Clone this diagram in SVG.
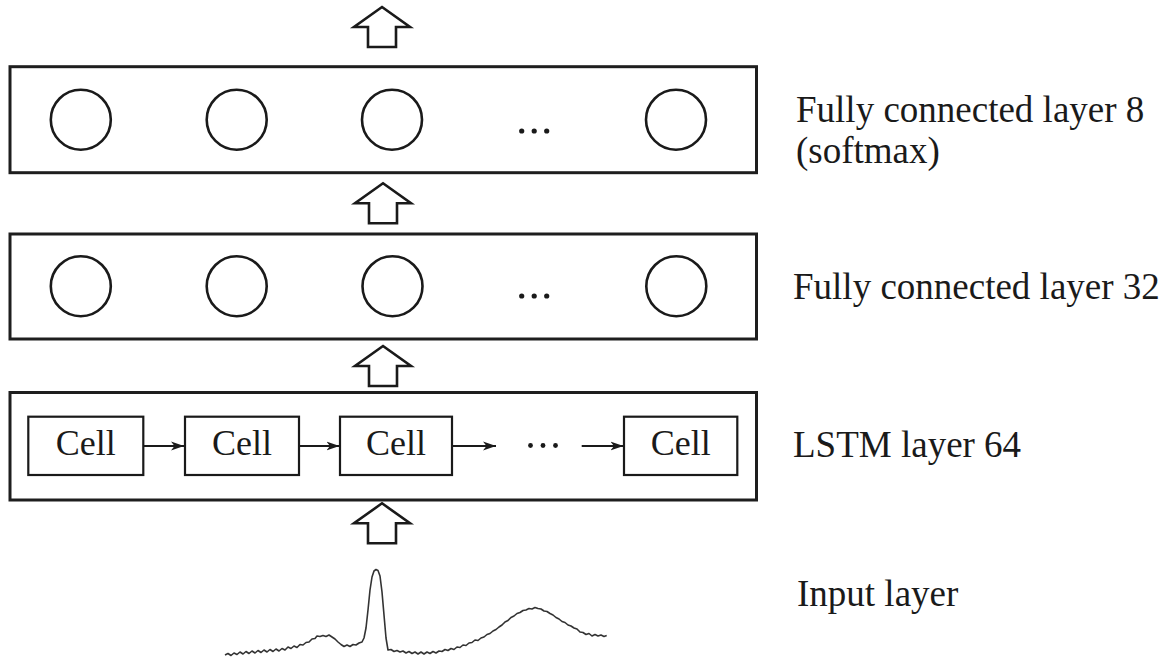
<svg xmlns="http://www.w3.org/2000/svg" width="1170" height="660" viewBox="0 0 1170 660">
<defs>
<style>
.layer{fill:none;stroke:#1e1e1e;stroke-width:3}
.neuron{fill:none;stroke:#1a1a1a;stroke-width:2.6}
.cell{fill:#fff;stroke:#1a1a1a;stroke-width:2.2}
.up{fill:#fff;stroke:#1a1a1a;stroke-width:2.6;stroke-linejoin:miter}
.flow{fill:none;stroke:#1a1a1a;stroke-width:2}
.dot{fill:#1a1a1a}
.lbl{font-family:"Liberation Serif","Times New Roman",serif;font-size:37px;fill:#1a1a1a}
.ct{font-family:"Liberation Serif","Times New Roman",serif;font-size:36px;fill:#1a1a1a;text-anchor:middle}
</style>
<marker id="ah" markerWidth="14" markerHeight="12" refX="13" refY="6" orient="auto" markerUnits="userSpaceOnUse">
<path d="M0,1.5 L13,6 L0,10.5 L3.5,6 Z" fill="#1a1a1a"/>
</marker>
<polygon id="bigArrow" class="up" points="0,0 28,20 14,20 14,40 -14,40 -14,20 -28,20"/>
</defs>
<rect width="1170" height="660" fill="#fff"/>

<g id="output-arrow"><use href="#bigArrow" x="382" y="7"/></g>

<g id="fc8">
<rect class="layer" x="10" y="66.7" width="746.5" height="106"/>
<circle class="neuron" cx="80.8" cy="119.7" r="30"/>
<circle class="neuron" cx="236.7" cy="119.7" r="30"/>
<circle class="neuron" cx="392" cy="119.7" r="30"/>
<circle class="dot" cx="521.7" cy="131" r="2.6"/>
<circle class="dot" cx="534.2" cy="131" r="2.6"/>
<circle class="dot" cx="546.7" cy="131" r="2.6"/>
<circle class="neuron" cx="676" cy="119.7" r="30"/>
</g>

<g id="arrow-fc32-fc8"><use href="#bigArrow" x="383" y="183.3"/></g>

<g id="fc32">
<rect class="layer" x="10" y="234" width="746.5" height="105"/>
<circle class="neuron" cx="80.8" cy="286.2" r="30"/>
<circle class="neuron" cx="236.7" cy="286.2" r="30"/>
<circle class="neuron" cx="392.5" cy="286.2" r="30"/>
<circle class="dot" cx="521.7" cy="296" r="2.6"/>
<circle class="dot" cx="534.2" cy="296" r="2.6"/>
<circle class="dot" cx="546.7" cy="296" r="2.6"/>
<circle class="neuron" cx="676.3" cy="286.2" r="30"/>
</g>

<g id="arrow-lstm-fc32"><use href="#bigArrow" x="383" y="346"/></g>

<g id="lstm">
<rect class="layer" x="10" y="392.5" width="746.5" height="107.5"/>
<g id="cell1"><rect class="cell" x="28.3" y="416.7" width="115" height="58.3"/><text class="ct" x="85.8" y="455">Cell</text></g>
<g id="cell2"><rect class="cell" x="185" y="416.7" width="114" height="58.3"/><text class="ct" x="242" y="455">Cell</text></g>
<g id="cell3"><rect class="cell" x="340" y="416.7" width="112" height="58.3"/><text class="ct" x="396" y="455">Cell</text></g>
<circle class="dot" cx="530.5" cy="445.5" r="2.4"/>
<circle class="dot" cx="543" cy="445.5" r="2.4"/>
<circle class="dot" cx="555.5" cy="445.5" r="2.4"/>
<g id="cell4"><rect class="cell" x="624" y="416.7" width="113.3" height="58.3"/><text class="ct" x="680.7" y="455">Cell</text></g>
</g>

<g id="connectors">
<line class="flow" x1="143.3" y1="446" x2="184" y2="446" marker-end="url(#ah)"/>
<line class="flow" x1="299" y1="446" x2="339.5" y2="446" marker-end="url(#ah)"/>
<line class="flow" x1="452" y1="446" x2="496" y2="446" marker-end="url(#ah)"/>
<line class="flow" x1="581.7" y1="446" x2="623.5" y2="446" marker-end="url(#ah)"/>
</g>

<g id="input-arrow"><use href="#bigArrow" x="382" y="503.3"/></g>

<g id="input-signal">
<path fill="none" stroke="#333" stroke-width="1.6" stroke-linejoin="round" d="M225,655 L228,653.5 L231,655.5 L234,653 L237,654.5 L240,652 L243,654 L246,651.5 L249,653.5 L252,651 L255,653 L258,650.5 L261,652.5 L264,650 L267,652 L270,649.5 L273,651.5 L276,649 L279,651 L282,648.5 L285,650 L288,647 L291,648.5 L294,646 L297,647.5 L300,644.5 L303,645 L306,642.5 L309,642 L312,639 L315,638.5 L317,636 L320,636.5 L323,635.5 L326,636.5 L329,635 L332,637 L335,639 L338,642 L341,644.5 L344,646.5 L347,645 L350,646.5 L353,644.5 L356,645 L359,643 L362,642 L364,638 L366,628 L368,610 L370,590 L372,577 L374,571 L376,569.5 L378,570.5 L380,576 L382,592 L384,615 L386,638 L388,650 L391,649.5 L394,651.5 L397,650.5 L400,652 L403,651 L406,653 L409,651.5 L412,653.5 L415,652 L418,654 L421,652 L424,654 L427,652 L430,653.5 L433,651.5 L436,653 L439,651 L442,651.5 L445,649.5 L448,650.5 L451,648.5 L454,649.5 L457,647 L460,647.5 L463,645 L466,645.5 L469,643 L472,642.5 L475,640 L478,640.5 L481,638 L484,637 L487,634.5 L490,633.5 L493,631 L496,629.5 L499,627 L502,625 L505,622 L508,620.5 L511,617.5 L514,616 L517,613.5 L520,612.5 L523,610.5 L526,610 L529,608.5 L532,609 L535,607.5 L538,608.5 L541,609 L544,611 L547,611.5 L550,613.5 L553,615 L556,617.5 L559,619 L562,621.5 L565,622.5 L568,625 L571,626 L574,628 L577,629 L580,632 L583,632.5 L586,634.5 L589,633.5 L592,636 L595,634.5 L598,636 L601,635 L604,636.5 L606.7,635.5"/>
</g>

<g id="labels">
<text class="lbl" x="796" y="121.5">Fully connected layer 8</text>
<text class="lbl" x="796" y="163">(softmax)</text>
<text class="lbl" x="793" y="299">Fully connected layer 32</text>
<text class="lbl" x="793" y="456.5">LSTM layer 64</text>
<text class="lbl" x="797" y="606">Input layer</text>
</g>
</svg>
